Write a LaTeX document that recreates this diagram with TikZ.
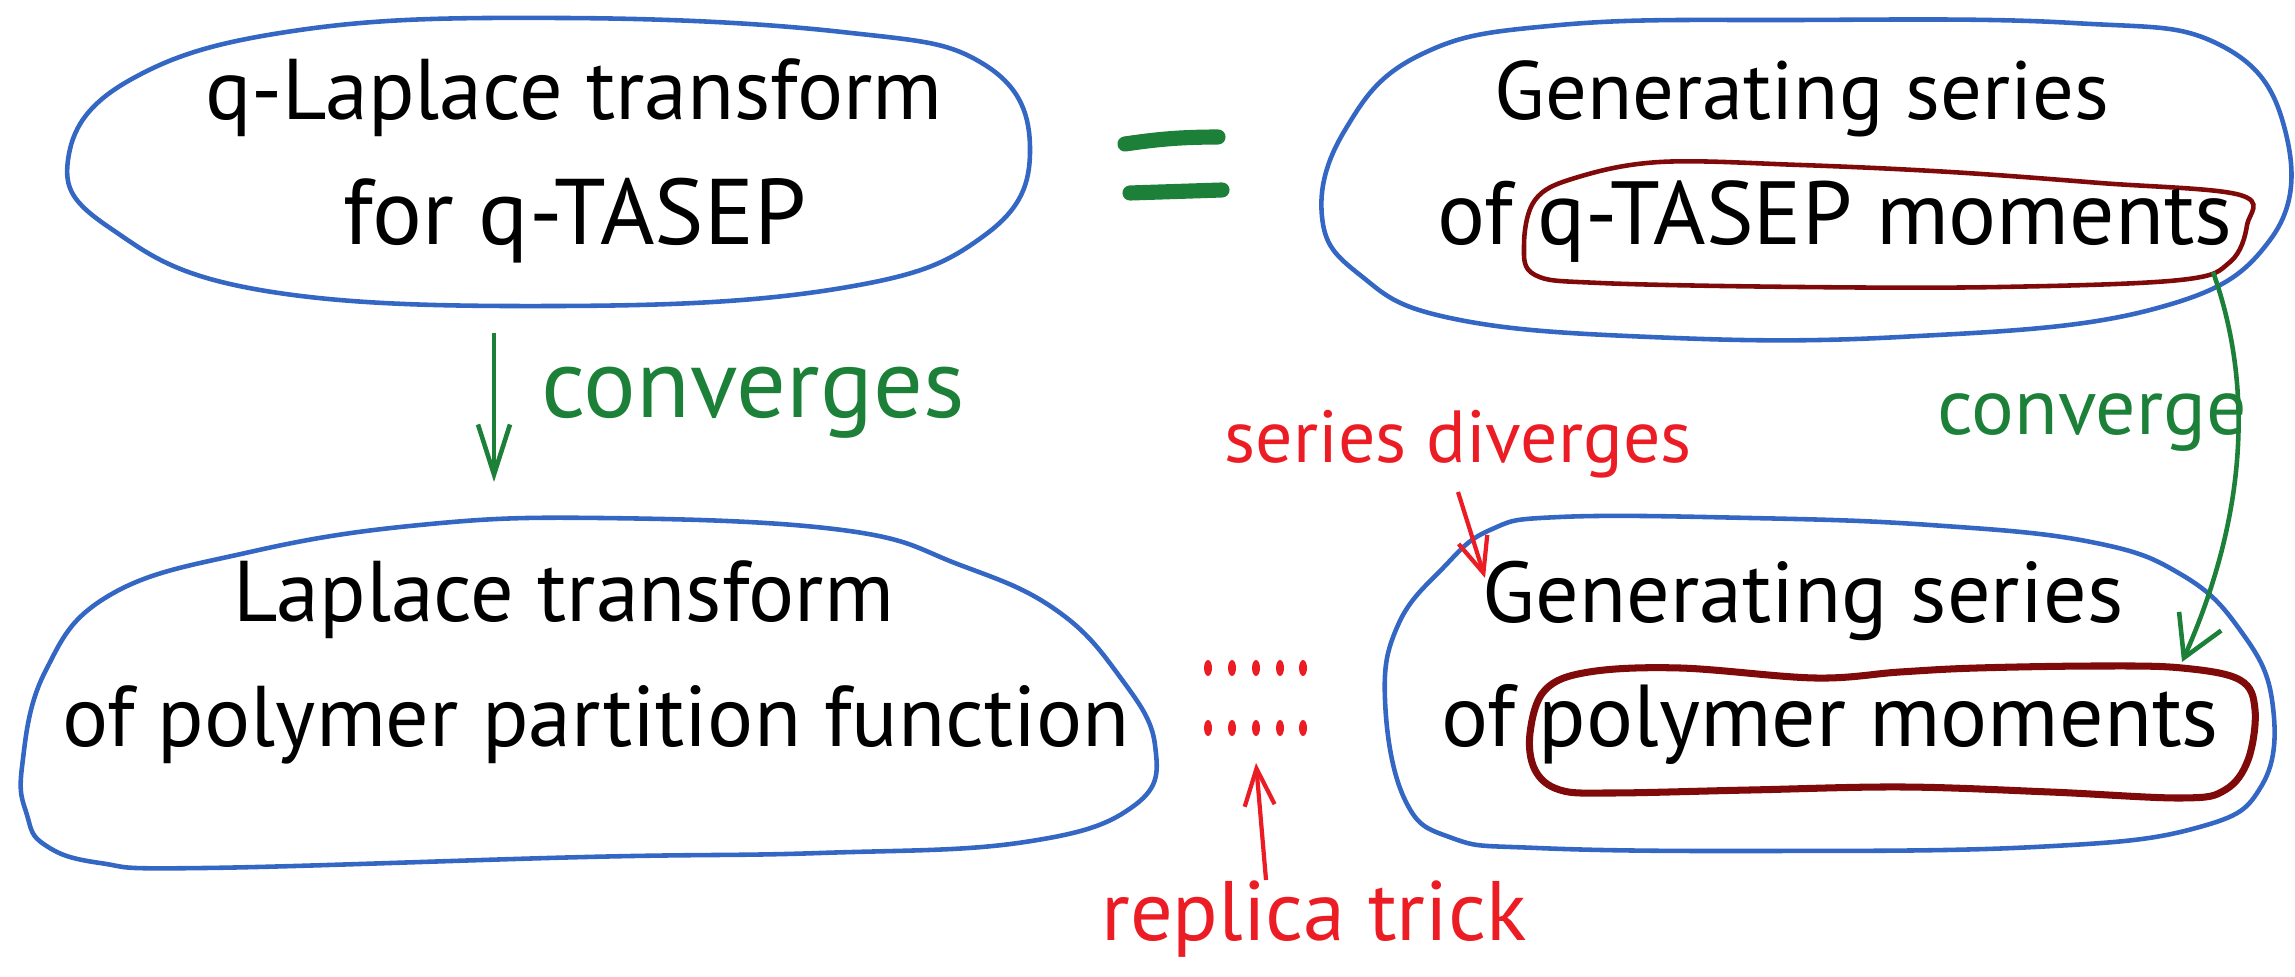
\documentclass[tikz,border=0pt]{standalone}
\usepackage{fontspec}
\setmainfont{PT Sans}
\usetikzlibrary{arrows.meta}
\definecolor{penblue}{RGB}{52,102,196}
\definecolor{pengreen}{RGB}{28,128,56}
\definecolor{penred}{RGB}{236,28,36}
\definecolor{pendarkred}{RGB}{128,10,10}

\begin{document}
\begin{tikzpicture}[x=0.01cm,y=-0.01cm,
  blob/.style={draw=penblue, line width=1.3pt},
  loopline/.style={draw=pendarkred, line width=1.3pt},
  txt/.style={anchor=base, font=\fontsize{24.5}{29}\selectfont, inner sep=0pt},
  gnote/.style={anchor=base, text=pengreen, font=\fontsize{28}{32}\selectfont, inner sep=0pt},
  rnote/.style={anchor=base, text=penred, font=\fontsize{21}{25}\selectfont, inner sep=0pt},
  garr/.style={draw=pengreen, line width=1.3pt, -{Straight Barb[length=5mm,width=3.2mm]}},
  rarr/.style={draw=penred, line width=1.2pt, -{Straight Barb[length=3.5mm,width=3mm]}},
  eqbar/.style={draw=pengreen, line width=4.3pt, line cap=round}]
  \useasboundingbox (0,0) rectangle (2295,977);

  % top left: q-Laplace transform
  \draw[blob] plot[smooth cycle, tension=0.7] coordinates {(68,160) (130,80) (300,30) (560,18) (842,32) (985,65) (1030,150) (985,235) (842,288) (560,306) (260,290) (110,228)};
  \node[txt] (qlap1) at (574,120) {q-Laplace transform};
  \node[txt, font=\fontsize{26.5}{31}\selectfont] (qlap2) at (575,245) {for q-TASEP};

  % equals sign
  \draw[eqbar] (1125,144) to[bend left=4] (1218,137);
  \draw[eqbar] (1130,193) -- (1222,190);

  % top right: generating series of q-TASEP moments
  \draw[blob] plot[smooth cycle, tension=0.7] coordinates {(1322,217) (1345,130) (1420,55) (1560,25) (1800,20) (2073,23) (2220,45) (2285,130) (2270,240) (2150,310) (1900,337) (1650,337) (1450,318) (1360,275)};
  \draw[loopline] plot[smooth cycle, tension=0.6] coordinates {(1524,245) (1535,200) (1575,178) (1660,162) (1800,165) (1950,172) (2100,183) (2240,195) (2247,225) (2230,262) (2180,280) (2000,287) (1800,287) (1600,283) (1535,275)};
  \node[txt, font=\fontsize{23.5}{28}\selectfont] (gen1) at (1802,120) {Generating series};
  \node[txt, font=\fontsize{25.5}{30}\selectfont] (gen2) at (1835,245) {of q-TASEP moments};

  % bottom left: Laplace transform
  \draw[blob] plot[smooth cycle, tension=0.7] coordinates {(22,767) (45,672) (110,595) (250,552) (420,525) (600,518) (842,530) (960,565) (1056,610) (1120,677) (1155,745) (1135,805) (1025,842) (820,853) (586,857) (205,868) (100,863) (45,845) (27,815)};
  \node[txt] (lap1) at (564,622) {Laplace transform};
  \node[txt] (lap2) at (596,747) {of polymer partition function};

  % bottom right: generating series of polymer moments
  \draw[blob] plot[smooth cycle, tension=0.7] coordinates {(1385,700) (1398,625) (1443,568) (1490,530) (1560,517) (1750,518) (1930,525) (2091,542) (2182,575) (2240,630) (2272,700) (2262,785) (2196,828) (2035,847) (1757,851) (1537,848) (1452,838) (1405,800)};
  \draw[loopline, line width=2pt] plot[smooth cycle, tension=0.6] coordinates {(1530,733) (1545,690) (1589,672) (1680,668) (1815,678) (1900,672) (1977,668) (2100,666) (2182,668) (2240,680) (2255,710) (2248,760) (2225,790) (2182,798) (2050,792) (1903,787) (1750,790) (1611,793) (1560,790) (1535,770)};
  \node[txt] (pgen1) at (1803,623) {Generating series};
  \node[txt, font=\fontsize{25}{30}\selectfont] (pgen2) at (1830,747) {of polymer moments};

  % converges (left)
  \coordinate (conv1s) at (494,333);
  \coordinate (conv1e) at (494,482);
  \draw[garr] (conv1s) -- (conv1e);
  \node[gnote] (convL) at (753,418) {converges};

  % converge (right)
  \coordinate (conv2s) at (2213,272);
  \coordinate (conv2e) at (2182,662);
  \draw[garr, -{Straight Barb[length=4mm,width=4.6mm]}] (conv2s) .. controls (2255,390) and (2245,520) .. (conv2e);
  \node[gnote, font=\fontsize{22.7}{27}\selectfont] (convR) at (2092,435) {converge};

  % series diverges
  \node[rnote] (diverg) at (1458,463) {series diverges};
  \coordinate (divs) at (1458,492);
  \coordinate (dive) at (1485,578);
  \draw[rarr] (divs) -- (dive);

  % dots and replica trick
  \foreach \x in {1208,1232,1256,1280,1303} {
    \fill[penred] (\x,668) ellipse (4 and 8);
    \fill[penred] (\x,728) ellipse (4 and 8);
  }
  \node[rnote, font=\fontsize{24}{28}\selectfont] (replica) at (1314,940) {replica trick};
  \coordinate (reps) at (1266,880);
  \coordinate (repe) at (1256,763);
  \draw[rarr, -{Straight Barb[length=3.7mm,width=3mm]}] (reps) -- (repe);
\end{tikzpicture}
\end{document}
